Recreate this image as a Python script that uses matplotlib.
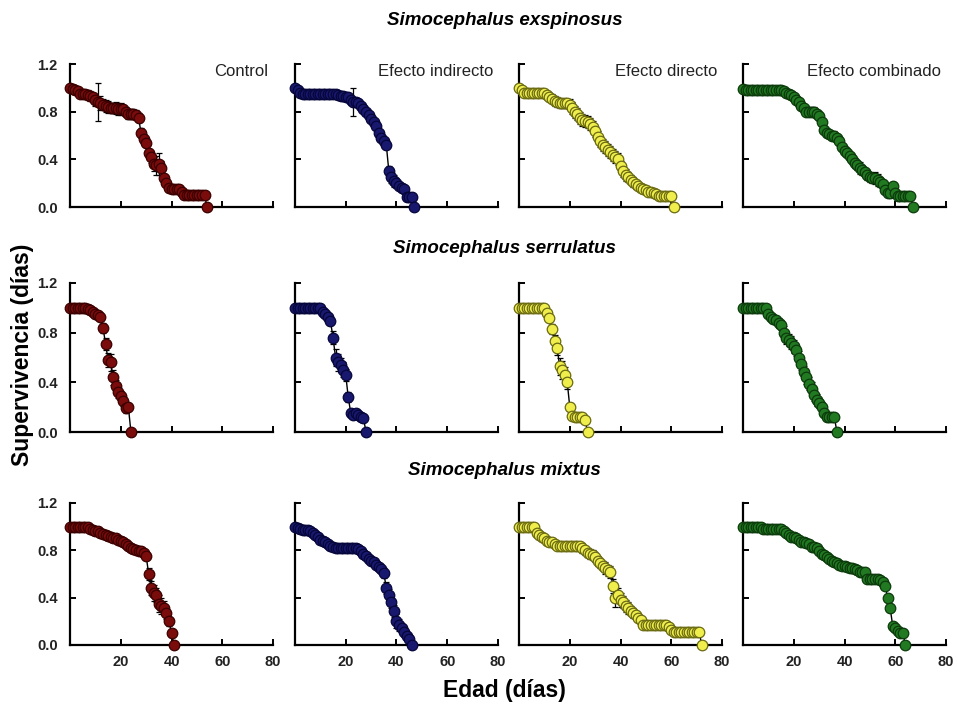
import matplotlib
matplotlib.use("Agg")
import matplotlib.pyplot as plt
import numpy as np

plt.rcParams['font.family'] = ['Liberation Sans', 'DejaVu Sans']

especies = ["Simocephalus exspinosus", "Simocephalus serrulatus", "Simocephalus mixtus"]
tratamientos = ["Control", "Efecto indirecto", "Efecto directo", "Efecto combinado"]
relleno = ["#7a0c0c", "#18186e", "#f0ee4c", "#217a21"]
borde = ["#3a0000", "#06063a", "#6a6a12", "#0c3a0c"]

x_ticks = [20, 40, 60, 80]
y_ticks = [0.0, 0.4, 0.8, 1.2]

# supervivencia diaria (lx) y error estandar, una lista por especie y tratamiento
exsp_control = [1.00, 0.99, 0.98, 0.97, 0.95, 0.95, 0.95, 0.94, 0.93, 0.92,
                0.90, 0.88, 0.87, 0.86, 0.85, 0.84, 0.83, 0.83, 0.83, 0.82,
                0.82, 0.82, 0.80, 0.78, 0.78, 0.78, 0.77, 0.75, 0.62, 0.57,
                0.54, 0.45, 0.42, 0.36, 0.35, 0.36, 0.33, 0.24, 0.20, 0.16,
                0.15, 0.15, 0.15, 0.15, 0.13, 0.10, 0.10, 0.10, 0.10, 0.10,
                0.10, 0.10, 0.10, 0.10, 0.00]
exsp_control_se = [0.00, 0.02, 0.02, 0.03, 0.03, 0.03, 0.03, 0.04, 0.04, 0.04,
                   0.05, 0.16, 0.06, 0.05, 0.05, 0.05, 0.04, 0.04, 0.05, 0.05,
                   0.05, 0.04, 0.04, 0.04, 0.04, 0.04, 0.04, 0.04, 0.04, 0.04,
                   0.04, 0.04, 0.05, 0.06, 0.08, 0.09, 0.06, 0.04, 0.03, 0.03,
                   0.03, 0.03, 0.03, 0.03, 0.03, 0.02, 0.02, 0.02, 0.02, 0.02,
                   0.02, 0.02, 0.02, 0.02, 0.00]

exsp_indirecto = [1.00, 0.98, 0.96, 0.95, 0.95, 0.95, 0.95, 0.95, 0.95, 0.95,
                  0.95, 0.95, 0.95, 0.95, 0.95, 0.95, 0.95, 0.94, 0.93, 0.93,
                  0.92, 0.92, 0.90, 0.88, 0.88, 0.87, 0.85, 0.82, 0.80, 0.77,
                  0.74, 0.71, 0.68, 0.62, 0.58, 0.55, 0.52, 0.30, 0.25, 0.22,
                  0.20, 0.18, 0.16, 0.15, 0.08, 0.08, 0.08, 0.00]
exsp_indirecto_se = [0.00, 0.01, 0.01, 0.01, 0.01, 0.01, 0.01, 0.01, 0.01, 0.01,
                     0.01, 0.01, 0.01, 0.01, 0.01, 0.01, 0.01, 0.01, 0.02, 0.02,
                     0.02, 0.03, 0.04, 0.12, 0.03, 0.02, 0.02, 0.02, 0.02, 0.02,
                     0.02, 0.02, 0.02, 0.02, 0.02, 0.02, 0.02, 0.04, 0.05, 0.05,
                     0.04, 0.03, 0.03, 0.02, 0.02, 0.02, 0.02, 0.00]

exsp_directo = [1.00, 0.98, 0.96, 0.96, 0.96, 0.96, 0.96, 0.96, 0.96, 0.96,
                0.96, 0.94, 0.92, 0.91, 0.89, 0.88, 0.87, 0.87, 0.87, 0.87,
                0.86, 0.83, 0.80, 0.78, 0.75, 0.73, 0.72, 0.71, 0.70, 0.67,
                0.64, 0.59, 0.55, 0.52, 0.50, 0.48, 0.46, 0.44, 0.42, 0.40,
                0.34, 0.30, 0.27, 0.25, 0.23, 0.21, 0.19, 0.18, 0.16, 0.15,
                0.14, 0.13, 0.13, 0.12, 0.11, 0.09, 0.09, 0.09, 0.09, 0.09,
                0.09, 0.00]
exsp_directo_se = [0.00, 0.01, 0.02, 0.02, 0.02, 0.02, 0.02, 0.02, 0.02, 0.02,
                   0.02, 0.03, 0.03, 0.04, 0.04, 0.04, 0.04, 0.04, 0.04, 0.04,
                   0.05, 0.05, 0.05, 0.05, 0.05, 0.05, 0.05, 0.05, 0.05, 0.05,
                   0.05, 0.05, 0.05, 0.05, 0.05, 0.05, 0.05, 0.05, 0.05, 0.05,
                   0.05, 0.05, 0.05, 0.04, 0.04, 0.04, 0.04, 0.03, 0.03, 0.03,
                   0.03, 0.03, 0.03, 0.02, 0.02, 0.02, 0.02, 0.02, 0.02, 0.02,
                   0.02, 0.00]

exsp_combinado = [0.99, 0.98, 0.98, 0.98, 0.98, 0.98, 0.98, 0.98, 0.98, 0.98,
                  0.98, 0.98, 0.98, 0.98, 0.98, 0.98, 0.97, 0.96, 0.95, 0.94,
                  0.92, 0.90, 0.88, 0.85, 0.83, 0.80, 0.80, 0.80, 0.80, 0.78,
                  0.76, 0.71, 0.65, 0.62, 0.61, 0.60, 0.60, 0.58, 0.55, 0.50,
                  0.47, 0.45, 0.43, 0.40, 0.37, 0.35, 0.33, 0.31, 0.29, 0.27,
                  0.25, 0.24, 0.24, 0.23, 0.21, 0.19, 0.14, 0.12, 0.12, 0.18,
                  0.12, 0.09, 0.09, 0.09, 0.09, 0.09, 0.09, 0.00]
exsp_combinado_se = [0.00, 0.01, 0.01, 0.01, 0.01, 0.01, 0.01, 0.01, 0.01, 0.01,
                     0.01, 0.01, 0.01, 0.01, 0.01, 0.01, 0.01, 0.02, 0.02, 0.02,
                     0.02, 0.03, 0.03, 0.03, 0.03, 0.03, 0.04, 0.04, 0.04, 0.03,
                     0.03, 0.03, 0.03, 0.03, 0.03, 0.04, 0.04, 0.03, 0.03, 0.03,
                     0.03, 0.03, 0.03, 0.04, 0.04, 0.04, 0.05, 0.04, 0.04, 0.04,
                     0.04, 0.04, 0.05, 0.05, 0.04, 0.04, 0.03, 0.03, 0.03, 0.03,
                     0.03, 0.02, 0.02, 0.02, 0.02, 0.02, 0.02, 0.00]

serr_control = [1.00, 1.00, 1.00, 1.00, 1.00, 1.00, 1.00, 0.99, 0.98, 0.97,
                0.95, 0.94, 0.93, 0.84, 0.71, 0.58, 0.56, 0.44, 0.37, 0.32,
                0.29, 0.25, 0.19, 0.20, 0.00]
serr_control_se = [0.00, 0.00, 0.00, 0.00, 0.00, 0.00, 0.00, 0.01, 0.01, 0.02,
                   0.02, 0.03, 0.03, 0.04, 0.05, 0.06, 0.07, 0.06, 0.05, 0.05,
                   0.04, 0.04, 0.04, 0.03, 0.00]

serr_indirecto = [1.00, 1.00, 1.00, 1.00, 1.00, 1.00, 1.00, 1.00, 1.00, 1.00,
                  1.00, 0.97, 0.95, 0.93, 0.89, 0.76, 0.60, 0.56, 0.54, 0.50,
                  0.46, 0.28, 0.15, 0.14, 0.15, 0.14, 0.12, 0.11, 0.00]
serr_indirecto_se = [0.00, 0.00, 0.00, 0.00, 0.00, 0.00, 0.00, 0.00, 0.00, 0.00,
                     0.00, 0.02, 0.02, 0.03, 0.03, 0.05, 0.07, 0.07, 0.06, 0.06,
                     0.05, 0.04, 0.03, 0.03, 0.03, 0.03, 0.03, 0.02, 0.00]

serr_directo = [1.00, 1.00, 1.00, 1.00, 1.00, 1.00, 1.00, 1.00, 1.00, 1.00,
                1.00, 0.96, 0.92, 0.83, 0.73, 0.68, 0.53, 0.50, 0.46, 0.40,
                0.20, 0.13, 0.12, 0.12, 0.12, 0.12, 0.10, 0.00]
serr_directo_se = [0.00, 0.00, 0.00, 0.00, 0.00, 0.00, 0.00, 0.00, 0.00, 0.00,
                   0.00, 0.02, 0.03, 0.04, 0.05, 0.06, 0.07, 0.07, 0.06, 0.05,
                   0.03, 0.02, 0.02, 0.02, 0.02, 0.02, 0.02, 0.00]

serr_combinado = [1.00, 1.00, 1.00, 1.00, 1.00, 1.00, 1.00, 1.00, 1.00, 1.00,
                  0.95, 0.93, 0.91, 0.90, 0.88, 0.86, 0.80, 0.76, 0.74, 0.72,
                  0.69, 0.66, 0.60, 0.55, 0.48, 0.44, 0.39, 0.35, 0.30, 0.26,
                  0.23, 0.20, 0.15, 0.12, 0.12, 0.12, 0.12, 0.00]
serr_combinado_se = [0.00, 0.00, 0.00, 0.00, 0.00, 0.00, 0.00, 0.00, 0.00, 0.00,
                     0.02, 0.03, 0.03, 0.03, 0.04, 0.04, 0.05, 0.05, 0.05, 0.05,
                     0.05, 0.05, 0.05, 0.05, 0.05, 0.05, 0.05, 0.05, 0.05, 0.05,
                     0.04, 0.04, 0.03, 0.02, 0.02, 0.02, 0.02, 0.00]

mixt_control = [1.00, 1.00, 1.00, 1.00, 1.00, 1.00, 1.00, 1.00, 0.98, 0.97,
                0.96, 0.96, 0.95, 0.94, 0.93, 0.92, 0.91, 0.90, 0.90, 0.89,
                0.88, 0.87, 0.85, 0.84, 0.82, 0.81, 0.80, 0.79, 0.79, 0.78,
                0.75, 0.60, 0.48, 0.44, 0.42, 0.35, 0.33, 0.31, 0.27, 0.20,
                0.10, 0.00]
mixt_control_se = [0.00, 0.00, 0.00, 0.00, 0.00, 0.00, 0.00, 0.00, 0.02, 0.02,
                   0.02, 0.02, 0.02, 0.02, 0.02, 0.02, 0.02, 0.02, 0.02, 0.02,
                   0.02, 0.02, 0.02, 0.02, 0.02, 0.02, 0.02, 0.02, 0.02, 0.02,
                   0.03, 0.05, 0.06, 0.07, 0.06, 0.07, 0.07, 0.06, 0.05, 0.04,
                   0.03, 0.00]

mixt_indirecto = [1.00, 0.99, 0.98, 0.97, 0.97, 0.97, 0.96, 0.95, 0.93, 0.91,
                  0.89, 0.88, 0.87, 0.85, 0.84, 0.83, 0.82, 0.82, 0.82, 0.82,
                  0.82, 0.82, 0.82, 0.82, 0.82, 0.81, 0.79, 0.77, 0.75, 0.73,
                  0.71, 0.70, 0.68, 0.66, 0.64, 0.61, 0.48, 0.42, 0.36, 0.29,
                  0.20, 0.17, 0.14, 0.11, 0.08, 0.05, 0.00]
mixt_indirecto_se = [0.00, 0.01, 0.01, 0.02, 0.02, 0.02, 0.02, 0.02, 0.03, 0.03,
                     0.03, 0.03, 0.03, 0.03, 0.03, 0.03, 0.02, 0.02, 0.02, 0.02,
                     0.02, 0.02, 0.02, 0.02, 0.02, 0.02, 0.02, 0.02, 0.02, 0.02,
                     0.02, 0.02, 0.02, 0.02, 0.03, 0.04, 0.05, 0.05, 0.05, 0.05,
                     0.06, 0.05, 0.04, 0.04, 0.03, 0.03, 0.00]

mixt_directo = [1.00, 1.00, 1.00, 1.00, 1.00, 1.00, 1.00, 0.95, 0.93, 0.91,
                0.90, 0.88, 0.87, 0.87, 0.85, 0.84, 0.84, 0.84, 0.84, 0.84,
                0.84, 0.84, 0.84, 0.84, 0.84, 0.82, 0.80, 0.78, 0.77, 0.76,
                0.74, 0.71, 0.69, 0.67, 0.65, 0.63, 0.62, 0.50, 0.40, 0.42,
                0.38, 0.36, 0.33, 0.31, 0.29, 0.27, 0.25, 0.23, 0.21, 0.17,
                0.17, 0.17, 0.17, 0.17, 0.17, 0.17, 0.17, 0.17, 0.17, 0.15,
                0.13, 0.11, 0.11, 0.11, 0.11, 0.11, 0.11, 0.11, 0.11, 0.11,
                0.11, 0.11, 0.00]
mixt_directo_se = [0.00, 0.00, 0.00, 0.00, 0.00, 0.00, 0.00, 0.03, 0.03, 0.03,
                   0.03, 0.03, 0.03, 0.03, 0.03, 0.02, 0.02, 0.02, 0.02, 0.02,
                   0.02, 0.02, 0.02, 0.02, 0.02, 0.04, 0.04, 0.04, 0.04, 0.04,
                   0.04, 0.04, 0.04, 0.04, 0.05, 0.05, 0.05, 0.06, 0.08, 0.06,
                   0.06, 0.05, 0.05, 0.05, 0.04, 0.04, 0.04, 0.03, 0.03, 0.02,
                   0.02, 0.02, 0.02, 0.02, 0.02, 0.02, 0.02, 0.02, 0.02, 0.02,
                   0.02, 0.02, 0.02, 0.02, 0.02, 0.02, 0.02, 0.02, 0.02, 0.02,
                   0.02, 0.02, 0.00]

mixt_combinado = [1.00, 1.00, 1.00, 1.00, 1.00, 1.00, 1.00, 1.00, 0.98, 0.98,
                  0.98, 0.98, 0.98, 0.98, 0.98, 0.98, 0.96, 0.95, 0.93, 0.91,
                  0.91, 0.90, 0.89, 0.87, 0.87, 0.86, 0.85, 0.83, 0.83, 0.82,
                  0.79, 0.77, 0.76, 0.74, 0.73, 0.71, 0.70, 0.69, 0.68, 0.67,
                  0.67, 0.66, 0.65, 0.65, 0.64, 0.63, 0.62, 0.62, 0.62, 0.56,
                  0.56, 0.56, 0.56, 0.56, 0.55, 0.53, 0.50, 0.40, 0.31, 0.16,
                  0.14, 0.12, 0.10, 0.10, 0.00]
mixt_combinado_se = [0.00, 0.00, 0.00, 0.00, 0.00, 0.00, 0.00, 0.00, 0.01, 0.01,
                     0.01, 0.01, 0.01, 0.01, 0.01, 0.01, 0.01, 0.01, 0.01, 0.01,
                     0.01, 0.01, 0.01, 0.01, 0.01, 0.01, 0.01, 0.01, 0.01, 0.01,
                     0.01, 0.01, 0.01, 0.01, 0.01, 0.01, 0.01, 0.01, 0.01, 0.01,
                     0.01, 0.01, 0.01, 0.01, 0.01, 0.01, 0.01, 0.01, 0.01, 0.02,
                     0.02, 0.02, 0.02, 0.02, 0.02, 0.02, 0.02, 0.02, 0.02, 0.02,
                     0.02, 0.02, 0.02, 0.02, 0.00]

curvas = [
    [(exsp_control, exsp_control_se), (exsp_indirecto, exsp_indirecto_se),
     (exsp_directo, exsp_directo_se), (exsp_combinado, exsp_combinado_se)],
    [(serr_control, serr_control_se), (serr_indirecto, serr_indirecto_se),
     (serr_directo, serr_directo_se), (serr_combinado, serr_combinado_se)],
    [(mixt_control, mixt_control_se), (mixt_indirecto, mixt_indirecto_se),
     (mixt_directo, mixt_directo_se), (mixt_combinado, mixt_combinado_se)],
]

fig = plt.figure(figsize=(9.58, 7.08), dpi=100)

lefts = [0.0731, 0.3079, 0.5418, 0.7756]
ancho = 0.2119
filas = [(0.7076, 0.2020), (0.3898, 0.2105), (0.0890, 0.2006)]
titulo_y = [0.971, 0.649, 0.335]

for i in range(3):
    bottom, alto = filas[i]
    for j in range(4):
        ax = fig.add_axes([lefts[j], bottom, ancho, alto])
        lx, se = curvas[i][j]
        edad = np.arange(len(lx))

        ax.errorbar(edad, lx, yerr=se, fmt='none', ecolor='black',
                    elinewidth=0.9, capsize=2.2, capthick=0.9, zorder=2,
                    clip_on=False)
        ax.plot(edad, lx, color='black', lw=1, zorder=2, clip_on=False)
        ax.plot(edad, lx, 'o', mfc=relleno[j], mec=borde[j], ms=7.6, mew=0.9,
                zorder=3, clip_on=False)

        ax.set_xlim(0, 80)
        ax.set_ylim(0, 1.2)
        ax.set_xticks(x_ticks)
        ax.set_yticks(y_ticks)
        for s in ['top', 'right']:
            ax.spines[s].set_visible(False)
        for s in ['left', 'bottom']:
            ax.spines[s].set_linewidth(1.6)
        ax.tick_params(direction='in', length=4, width=1.4, colors='black',
                       labelcolor='#222222', labelsize=10.5)
        ax.tick_params(axis='y', pad=9)
        ax.tick_params(axis='x', pad=7)
        for lab in ax.get_xticklabels() + ax.get_yticklabels():
            lab.set_fontweight('bold')
        if j != 0:
            ax.set_yticklabels([])
        else:
            ax.set_yticklabels(['0.0', '0.4', '0.8', '1.2'])
        if i != 2:
            ax.set_xticklabels([])
        if i == 0:
            ax.text(0.975, 0.945, tratamientos[j], transform=ax.transAxes,
                    ha='right', va='center', fontsize=12, color='#222222')

    fig.text(0.527, titulo_y[i], especies[i], ha='center', va='center',
             fontsize=13.5, fontweight='bold', fontstyle='italic')

fig.text(0.023, 0.499, 'Supervivencia (días)', rotation=90, ha='center',
         va='center', fontsize=16.5, fontweight='bold')
fig.text(0.527, 0.025, 'Edad (días)', ha='center', va='center',
         fontsize=16.5, fontweight='bold')

fig.savefig('out.png', dpi=100)
